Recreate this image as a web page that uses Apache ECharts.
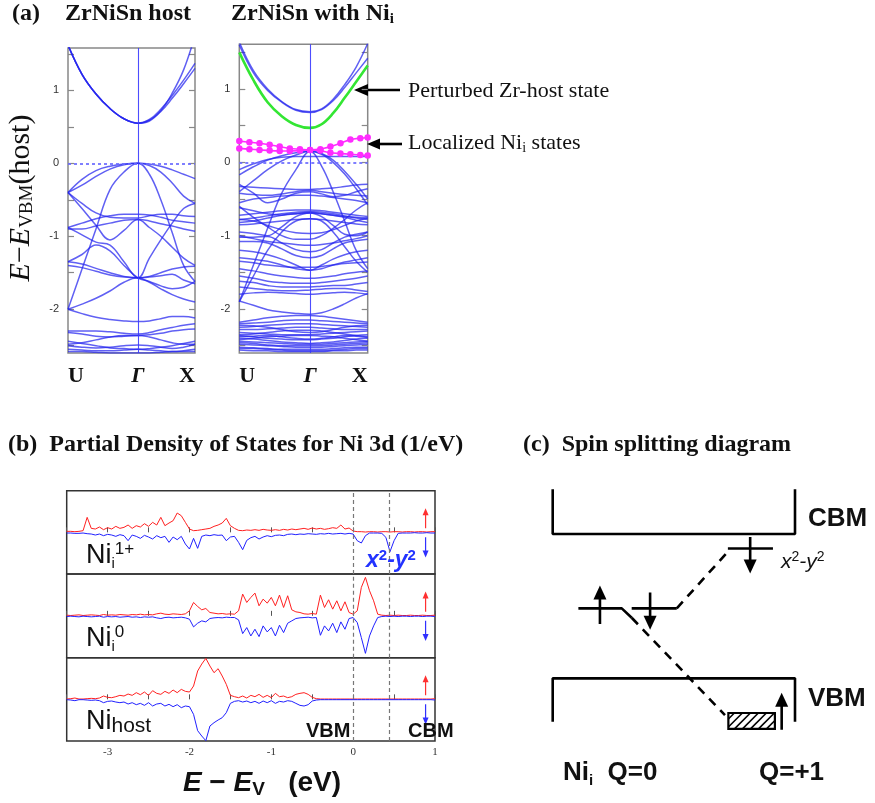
<!DOCTYPE html>
<html><head><meta charset="utf-8">
<script src="https://cdn.jsdelivr.net/npm/echarts@6/dist/echarts.min.js"></script>
<style>html,body{margin:0;padding:0;background:#fff}#c{width:875px;height:803px}</style>
</head><body><div id="c"></div><script>
// ---------------- DATA ----------------
// k-path positions (U -> Gamma -> X)
const kPoints = [0, 0.2, 0.4, 0.6, 0.8, 1.0, 1.163, 1.326, 1.489, 1.652, 1.815];
const kTickValues = [0, 1, 1.815];
const kTickLabels = ['U', 'Γ', 'X'];
const energyTickLabels = [-2, -1, 0, 1];
const energyTicks = [-2.5, -2, -1.5, -1, -0.5, 0, 0.5, 1, 1.5];

// ZrNiSn host bands (eV), values at kPoints
const hostBands = [
  [1.62,1.22,0.95,0.75,0.61,0.55,0.60,0.74,0.93,1.14,1.37],
  [1.62,1.22,0.95,0.75,0.61,0.55,0.59,0.71,0.89,1.09,1.30],
  [1.62,1.22,0.95,0.75,0.61,0.55,0.58,0.72,0.96,1.28,1.75],
  [-0.40,-0.22,-0.10,-0.04,-0.01,0,-0.01,-0.04,-0.09,-0.15,-0.21],
  [-0.40,-0.30,-0.18,-0.08,-0.02,0,-0.03,-0.12,-0.27,-0.45,-0.55],
  [-2.00,-1.45,-0.90,-0.36,-0.12,0,-0.15,-0.50,-0.95,-1.40,-1.62],
  [-0.40,-0.55,-0.68,-0.74,-0.75,-0.75,-0.72,-0.70,-0.70,-0.72,-0.73],
  [-0.88,-0.82,-0.76,-0.72,-0.70,-0.70,-0.71,-0.74,-0.78,-0.80,-0.82],
  [-0.90,-0.90,-0.86,-0.82,-0.78,-0.77,-0.79,-0.83,-0.86,-0.90,-0.93],
  [-0.40,-0.62,-0.85,-1.05,-0.92,-0.77,-0.88,-1.00,-1.15,-1.30,-1.40],
  [-0.88,-0.98,-1.08,-1.12,-1.35,-1.57,-1.30,-1.05,-0.82,-0.62,-0.55],
  [-1.35,-1.38,-1.44,-1.50,-1.55,-1.57,-1.55,-1.50,-1.45,-1.42,-1.41],
  [-1.40,-1.43,-1.48,-1.53,-1.56,-1.57,-1.56,-1.54,-1.52,-1.60,-1.65],
  [-1.35,-1.25,-1.12,-1.20,-1.40,-1.57,-1.62,-1.68,-1.72,-1.70,-1.62],
  [-2.00,-1.93,-1.85,-1.75,-1.63,-1.57,-1.63,-1.72,-1.80,-1.86,-1.90],
  [-2.00,-2.06,-2.11,-2.14,-2.16,-2.17,-2.16,-2.13,-2.10,-2.10,-2.12],
  [-2.30,-2.30,-2.30,-2.31,-2.33,-2.34,-2.32,-2.28,-2.25,-2.22,-2.20],
  [-2.32,-2.34,-2.37,-2.38,-2.37,-2.36,-2.35,-2.33,-2.30,-2.28,-2.27],
  [-2.48,-2.46,-2.42,-2.38,-2.36,-2.36,-2.38,-2.42,-2.46,-2.48,-2.48],
  [-2.50,-2.52,-2.53,-2.52,-2.50,-2.49,-2.50,-2.52,-2.54,-2.52,-2.48],
  [-2.55,-2.56,-2.57,-2.57,-2.56,-2.55,-2.56,-2.57,-2.58,-2.57,-2.55],
  [-2.44,-2.47,-2.50,-2.53,-2.54,-2.55,-2.54,-2.52,-2.50,-2.47,-2.44],
  [-2.58,-2.58,-2.59,-2.60,-2.60,-2.60,-2.60,-2.59,-2.58,-2.58,-2.58]
];

// ZrNiSn with Ni_i bands (eV)
const niBands = [
  [1.60,1.22,0.98,0.82,0.71,0.68,0.72,0.84,1.02,1.22,1.42],
  [1.64,1.25,1.00,0.83,0.72,0.69,0.73,0.86,1.06,1.30,1.62],
  [-0.17,-0.06,0.03,0.09,0.13,0.15,0.12,0.03,-0.12,-0.30,-0.50],
  [-0.40,-0.25,-0.10,0.02,0.10,0.15,0.11,0.00,-0.16,-0.36,-0.58],
  [-0.10,-0.02,0.04,0.07,0.08,0.08,0.08,0.08,0.08,0.08,0.08],
  [-1.90,-1.40,-0.90,-0.42,-0.10,0.15,-0.05,-0.40,-0.80,-1.20,-1.45],
  [-0.33,-0.34,-0.35,-0.36,-0.37,-0.37,-0.36,-0.35,-0.33,-0.31,-0.30],
  [-0.42,-0.44,-0.45,-0.43,-0.40,-0.38,-0.40,-0.42,-0.44,-0.45,-0.46],
  [-0.55,-0.50,-0.48,-0.46,-0.45,-0.45,-0.46,-0.48,-0.50,-0.52,-0.55],
  [-0.30,-0.42,-0.55,-0.50,-0.42,-0.40,-0.43,-0.47,-0.45,-0.40,-0.36],
  [-0.72,-0.70,-0.68,-0.66,-0.65,-0.65,-0.66,-0.68,-0.70,-0.72,-0.74],
  [-0.78,-0.76,-0.73,-0.70,-0.68,-0.67,-0.68,-0.70,-0.73,-0.76,-0.78],
  [-0.82,-0.80,-0.76,-0.72,-0.70,-0.69,-0.70,-0.72,-0.75,-0.79,-0.82],
  [-0.85,-0.84,-0.82,-0.80,-0.78,-0.77,-0.78,-0.80,-0.82,-0.84,-0.85],
  [-0.62,-0.66,-0.70,-0.72,-0.70,-0.68,-0.70,-0.72,-0.74,-0.75,-0.76],
  [-0.95,-0.97,-1.00,-0.88,-0.74,-0.69,-0.74,-0.86,-0.98,-1.00,-0.95],
  [-1.02,-1.02,-1.01,-1.10,-1.19,-1.22,-1.19,-1.10,-1.02,-0.98,-0.95],
  [-1.08,-1.08,-1.10,-1.18,-1.27,-1.30,-1.27,-1.18,-1.10,-1.07,-1.05],
  [-1.20,-1.22,-1.26,-1.32,-1.40,-1.47,-1.40,-1.32,-1.26,-1.22,-1.20],
  [-1.30,-1.32,-1.35,-1.40,-1.45,-1.47,-1.45,-1.40,-1.36,-1.33,-1.30],
  [-1.35,-1.37,-1.40,-1.42,-1.43,-1.43,-1.42,-1.40,-1.38,-1.37,-1.36],
  [-1.45,-1.48,-1.52,-1.55,-1.57,-1.58,-1.57,-1.55,-1.52,-1.50,-1.48],
  [-1.55,-1.58,-1.62,-1.64,-1.65,-1.65,-1.64,-1.62,-1.60,-1.58,-1.55],
  [-1.62,-1.64,-1.68,-1.70,-1.70,-1.70,-1.69,-1.68,-1.68,-1.66,-1.64],
  [-1.70,-1.72,-1.74,-1.75,-1.75,-1.74,-1.73,-1.72,-1.72,-1.74,-1.76],
  [-1.89,-1.95,-2.01,-2.04,-2.06,-2.07,-2.05,-2.00,-1.93,-1.85,-1.79],
  [-1.90,-1.55,-1.20,-0.95,-0.80,-0.77,-0.80,-0.95,-1.15,-1.35,-1.50],
  [-0.60,-0.75,-0.88,-1.00,-1.05,-1.05,-1.00,-0.90,-0.78,-0.65,-0.55],
  [-0.78,-0.80,-0.86,-0.92,-0.96,-0.97,-0.96,-0.92,-0.86,-0.80,-0.76],
  [-2.18,-2.15,-2.12,-2.10,-2.09,-2.09,-2.10,-2.12,-2.14,-2.16,-2.18],
  [-2.20,-2.19,-2.18,-2.16,-2.15,-2.15,-2.16,-2.17,-2.18,-2.19,-2.20],
  [-2.25,-2.24,-2.22,-2.21,-2.20,-2.20,-2.21,-2.22,-2.23,-2.24,-2.25],
  [-2.28,-2.28,-2.27,-2.26,-2.25,-2.25,-2.26,-2.27,-2.28,-2.28,-2.28],
  [-2.32,-2.33,-2.34,-2.35,-2.35,-2.35,-2.34,-2.33,-2.32,-2.31,-2.30],
  [-2.36,-2.38,-2.40,-2.41,-2.42,-2.42,-2.41,-2.40,-2.38,-2.36,-2.35],
  [-2.40,-2.41,-2.43,-2.45,-2.46,-2.47,-2.46,-2.45,-2.43,-2.41,-2.40],
  [-2.44,-2.45,-2.46,-2.47,-2.48,-2.48,-2.48,-2.47,-2.46,-2.45,-2.44],
  [-2.48,-2.49,-2.50,-2.51,-2.52,-2.52,-2.52,-2.51,-2.50,-2.49,-2.48],
  [-2.52,-2.53,-2.54,-2.55,-2.55,-2.55,-2.55,-2.54,-2.53,-2.52,-2.52],
  [-2.56,-2.57,-2.57,-2.58,-2.58,-2.58,-2.58,-2.57,-2.57,-2.56,-2.56],
  [-2.35,-2.34,-2.32,-2.30,-2.29,-2.29,-2.30,-2.32,-2.34,-2.36,-2.38],
  [-2.42,-2.40,-2.38,-2.37,-2.36,-2.36,-2.37,-2.38,-2.40,-2.42,-2.44],
  [-2.22,-2.23,-2.25,-2.28,-2.31,-2.32,-2.31,-2.28,-2.25,-2.23,-2.22],
  [-2.38,-2.37,-2.36,-2.38,-2.40,-2.41,-2.40,-2.38,-2.36,-2.37,-2.39],
  [-2.46,-2.47,-2.49,-2.50,-2.50,-2.50,-2.50,-2.49,-2.48,-2.47,-2.46],
  [-2.54,-2.54,-2.55,-2.56,-2.57,-2.57,-2.57,-2.56,-2.55,-2.54,-2.54],
  [-1.80,-1.78,-1.77,-1.78,-1.79,-1.80,-1.79,-1.78,-1.77,-1.78,-1.80],
  [-1.00,-1.04,-1.08,-1.10,-1.12,-1.13,-1.12,-1.10,-1.07,-1.04,-1.00]
];
// perturbed Zr-host state (green)
const zrHostState = [1.50,1.12,0.82,0.63,0.51,0.47,0.52,0.67,0.88,1.10,1.32];
// localized Ni_i states (magenta, dotted)
const kMagenta = [0,0.143,0.286,0.429,0.571,0.714,0.857,1.0,1.146,1.288,1.43,1.57,1.71,1.815];
const niLocalUpper = [0.29,0.275,0.26,0.24,0.215,0.19,0.18,0.17,0.18,0.215,0.26,0.31,0.33,0.34];
const niLocalLower = [0.19,0.18,0.17,0.16,0.155,0.155,0.16,0.17,0.16,0.13,0.12,0.11,0.10,0.095];

// PDOS energies (eV) and Ni 3d values (up positive, down negative)
const dosEnergy = [-3.5,-3.45,-3.4,-3.35,-3.3,-3.25,-3.2,-3.15,-3.1,-3.05,-3,-2.95,-2.9,-2.85,-2.8,-2.75,-2.7,-2.65,-2.6,-2.55,-2.5,-2.45,-2.4,-2.35,-2.3,-2.25,-2.2,-2.15,-2.1,-2.05,-2,-1.95,-1.9,-1.85,-1.8,-1.75,-1.7,-1.65,-1.6,-1.55,-1.5,-1.45,-1.4,-1.35,-1.3,-1.25,-1.2,-1.15,-1.1,-1.05,-1,-0.95,-0.9,-0.85,-0.8,-0.75,-0.7,-0.65,-0.6,-0.55,-0.5,-0.45,-0.4,-0.35,-0.3,-0.25,-0.2,-0.15,-0.1,-0.05,0,0.05,0.1,0.15,0.2,0.25,0.3,0.35,0.4,0.45,0.5,0.55,0.6,0.65,0.7,0.75,0.8,0.85,0.9,0.95,1];
const ni1pUp = [0.03,0.03,0.02,0.03,0.05,0.45,0.12,0.10,0.16,0.08,
 0.14,0.10,0.18,0.12,0.15,0.22,0.12,0.20,0.16,0.26,
 0.18,0.30,0.22,0.45,0.20,0.28,0.35,0.58,0.50,0.30,
 0.10,0.05,0.06,0.08,0.10,0.12,0.18,0.22,0.28,0.42,
 0.20,0.12,0.06,0.05,0.07,0.06,0.08,0.06,0.09,0.07,
 0.06,0.08,0.06,0.09,0.07,0.10,0.08,0.10,0.12,0.09,
 0.13,0.10,0.12,0.09,0.11,0.14,0.12,0.22,0.10,0.13,
 0.04,0.02,0.02,0.01,0.02,0.02,0.01,0.02,0.02,0.01,
 0.02,0.02,0.01,0.02,0.02,0.01,0.02,0.02,0.01,0.02,0.02];
const ni1pDown = [-0.02,-0.02,-0.03,-0.03,-0.02,-0.04,-0.05,-0.08,-0.05,-0.10,
 -0.06,-0.08,-0.12,-0.07,-0.10,-0.25,-0.08,-0.12,-0.18,-0.09,
 -0.14,-0.20,-0.10,-0.16,-0.12,-0.30,-0.14,-0.22,-0.12,-0.35,
 -0.50,-0.18,-0.48,-0.12,-0.08,-0.10,-0.07,-0.09,-0.08,-0.25,
 -0.14,-0.12,-0.30,-0.52,-0.24,-0.16,-0.12,-0.20,-0.14,-0.10,
 -0.13,-0.09,-0.08,-0.10,-0.06,-0.05,-0.07,-0.05,-0.06,-0.04,
 -0.05,-0.06,-0.04,-0.05,-0.03,-0.05,-0.04,-0.03,-0.05,-0.03,
 -0.05,-0.25,-0.32,-0.10,-0.02,-0.02,-0.02,-0.03,-0.15,-0.58,
 -0.25,-0.03,-0.02,-0.02,-0.02,-0.01,-0.02,-0.02,-0.01,-0.02,-0.02];
const ni0Up = [0.02,0.01,0.02,0.03,0.01,0.02,0.03,0.02,0.01,0.04,
 0.02,0.03,0.02,0.04,0.03,0.02,0.04,0.03,0.05,0.03,
 0.04,0.03,0.06,0.08,0.05,0.04,0.06,0.05,0.04,0.06,
 0.15,0.40,0.28,0.18,0.22,0.10,0.08,0.06,0.07,0.05,
 0.06,0.05,0.15,0.65,0.40,0.55,0.68,0.30,0.50,0.38,
 0.55,0.30,0.62,0.25,0.60,0.18,0.12,0.10,0.06,0.05,
 0.07,0.05,0.62,0.25,0.48,0.20,0.45,0.15,0.42,0.10,
 0.05,0.15,0.85,1.15,0.75,0.45,0.05,0.02,0.01,0.02,
 0.01,0.02,0.01,0.01,0.02,0.01,0.01,0.02,0.01,0.01,0.02];
const ni0Down = [-0.02,-0.01,-0.02,-0.03,-0.01,-0.02,-0.03,-0.02,-0.01,-0.04,
 -0.02,-0.03,-0.02,-0.04,-0.03,-0.02,-0.04,-0.03,-0.05,-0.03,
 -0.04,-0.03,-0.06,-0.08,-0.05,-0.04,-0.06,-0.05,-0.04,-0.06,
 -0.10,-0.33,-0.22,-0.15,-0.18,-0.08,-0.06,-0.05,-0.06,-0.04,
 -0.05,-0.05,-0.12,-0.53,-0.35,-0.60,-0.40,-0.62,-0.30,-0.48,
 -0.35,-0.60,-0.28,-0.50,-0.22,-0.15,-0.08,-0.06,-0.05,-0.04,
 -0.06,-0.05,-0.58,-0.30,-0.45,-0.22,-0.50,-0.18,-0.40,-0.08,
 -0.05,-0.20,-0.65,-1.12,-0.60,-0.30,-0.05,-0.02,-0.01,-0.02,
 -0.01,-0.02,-0.01,-0.01,-0.02,-0.01,-0.01,-0.02,-0.01,-0.01,-0.02];
const niHostUp = [0.01,0.02,0.04,0.01,0.01,0.02,0.03,0.02,0.04,0.10,
 0.06,0.05,0.08,0.12,0.10,0.16,0.12,0.20,0.14,0.22,
 0.12,0.26,0.18,0.15,0.24,0.18,0.28,0.20,0.30,0.24,
 0.22,0.40,0.85,1.06,1.23,1.00,0.80,0.92,0.70,0.45,
 0.12,0.08,0.05,0.10,0.04,0.12,0.08,0.15,0.06,0.12,
 0.05,0.18,0.08,0.10,0.05,0.08,0.15,0.18,0.20,0.15,
 0.06,0.02,0.01,0.01,0.01,0.01,0.01,0.01,0.01,0.01,
 0.01,0.01,0.01,0.01,0.01,0.01,0.01,0.01,0.01,0.01,
 0.01,0.01,0.01,0.01,0.01,0.01,0.01,0.01,0.01,0.01,0.02];
const niHostDown = [-0.01,-0.02,-0.04,-0.01,-0.01,-0.02,-0.03,-0.02,-0.04,-0.10,
 -0.06,-0.05,-0.08,-0.10,-0.08,-0.14,-0.10,-0.16,-0.12,-0.18,
 -0.10,-0.20,-0.14,-0.12,-0.20,-0.15,-0.22,-0.16,-0.25,-0.20,
 -0.22,-0.45,-0.94,-1.10,-1.24,-0.80,-0.70,-0.62,-0.55,-0.40,
 -0.12,-0.06,-0.04,-0.08,-0.05,-0.10,-0.06,-0.12,-0.05,-0.10,
 -0.04,-0.12,-0.06,-0.08,-0.04,-0.06,-0.12,-0.18,-0.20,-0.16,
 -0.05,-0.02,-0.01,-0.01,-0.01,-0.01,-0.01,-0.01,-0.01,-0.01,
 -0.01,-0.01,-0.01,-0.01,-0.01,-0.01,-0.01,-0.01,-0.01,-0.01,
 -0.01,-0.01,-0.01,-0.01,-0.01,-0.01,-0.01,-0.01,-0.01,-0.01,-0.02];
const dosTickLabels = [-3, -2, -1, 0, 1];
const edgeMarkers = [0, 0.44];          // VBM, CBM (eV)
const spinArrowE = 0.885;               // energy where the spin arrows sit
const spinUpArrow = [0.12, 0.62];
const spinDownArrow = [-0.15, -0.65];

// Spin-splitting diagram (schematic energy levels: VBM = 0, CBM = 1)
const cbmBox = [[0, 1.31], [0, 1.0], [10, 1.0], [10, 1.31]];
const vbmBox = [[0, -0.30], [0, 0], [10, 0], [10, -0.30]];
const q0UpLevel = [[1.06, 0.485], [2.85, 0.485], [3.26, 0.42]];
const q0DownLevel = [[3.26, 0.485], [5.12, 0.485]];
const x2y2Level = [[7.23, 0.90], [9.09, 0.90]];
const dashToX2y2 = [[5.12, 0.485], [7.19, 0.87]];
const dashToVbm = [[3.26, 0.42], [7.11, -0.255]];
const occupiedBand = [[7.25, -0.24, 9.17, -0.35]];
const levelArrows = [ // x, from, to
  [1.95, 0.376, 0.64],
  [4.02, 0.595, 0.34],
  [8.15, 0.98, 0.73],
  [9.45, -0.357, -0.103]
];

// ---------------- CHART ----------------
const SERIF = "'Liberation Serif','Times New Roman',serif";
const SANS = "'Liberation Sans',Arial,sans-serif";
const chart = echarts.init(document.getElementById('c'), null, {renderer: 'canvas'});

const bandGrids = [
  {left: 68, top: 48, width: 127, height: 305, ymin: -2.60, ymax: 1.58},
  {left: 239.3, top: 44.3, width: 128.4, height: 308.7, ymin: -2.60, ymax: 1.61}
];
const dosGrids = [
  {left: 66.7, top: 490.7, width: 368.3, height: 83.3},
  {left: 66.7, top: 574, width: 368.3, height: 83.7},
  {left: 66.7, top: 657.7, width: 368.3, height: 83.3}
];
const diagGrid = {left: 552.7, top: 476.3, width: 242.3, height: 274.2};

const grids = [], xAxes = [], yAxes = [], series = [];
bandGrids.forEach((g, i) => {
  grids.push({left: g.left, top: g.top, width: g.width, height: g.height, show: true,
    borderColor: '#888', borderWidth: 1.5, backgroundColor: 'transparent', containLabel: false, outerBoundsMode: 'none'});
  xAxes.push({type: 'value', gridIndex: i, min: 0, max: 1.815, splitLine: {show: false},
    axisLine: {show: false}, axisTick: {show: false},
    axisLabel: {customValues: kTickValues, margin: 12, alignMinLabel: 'left', alignMaxLabel: 'right',
      formatter: v => { const j = kTickValues.indexOf(v); return j === 1 ? '{g|Γ}' : '{b|' + kTickLabels[j] + '}'; },
      rich: {g: {fontFamily: SERIF, fontSize: 22, fontWeight: 'bold', fontStyle: 'italic', color: '#111'},
             b: {fontFamily: SERIF, fontSize: 22, fontWeight: 'bold', color: '#111'}}}});
  yAxes.push({type: 'value', gridIndex: i, min: g.ymin, max: g.ymax, position: 'left', splitLine: {show: false},
    axisLine: {show: false},
    axisTick: {show: true, inside: true, length: 6, customValues: energyTicks, lineStyle: {color: '#888', width: 1.2}},
    axisLabel: {customValues: energyTickLabels, margin: 9, fontFamily: SANS, fontSize: 11, color: '#333',
      formatter: v => String(v)}});
});
dosGrids.forEach((g, i) => {
  const gi = i + 2;
  grids.push({left: g.left, top: g.top, width: g.width, height: g.height, show: true,
    borderColor: '#333', borderWidth: 1.5, backgroundColor: 'transparent', containLabel: false, outerBoundsMode: 'none'});
  xAxes.push({type: 'value', gridIndex: gi, min: -3.5, max: 1, interval: 0.5, splitLine: {show: false},
    axisLine: {show: false},
    axisTick: {show: true, inside: true, length: 5, lineStyle: {color: '#555', width: 1}},
    axisLabel: {show: i === 2, customValues: dosTickLabels, margin: 6, fontFamily: SERIF, fontSize: 11, color: '#333',
      formatter: v => String(v)}});
  yAxes.push({type: 'value', gridIndex: gi, min: -1.25, max: 1.25, show: false, splitLine: {show: false}});
});
grids.push({left: diagGrid.left, top: diagGrid.top, width: diagGrid.width, height: diagGrid.height, show: false, containLabel: false, outerBoundsMode: 'none'});
xAxes.push({type: 'value', gridIndex: 5, min: 0, max: 10, show: false, splitLine: {show: false}});
yAxes.push({type: 'value', gridIndex: 5, min: -0.5, max: 1.4, show: false, splitLine: {show: false}});
// right-side tick axes for band panels
bandGrids.forEach((g, i) => {
  yAxes.push({type: 'value', gridIndex: i, min: g.ymin, max: g.ymax, position: 'right', splitLine: {show: false},
    axisLine: {show: false}, axisLabel: {show: false},
    axisTick: {show: true, inside: true, length: 6, customValues: energyTicks, lineStyle: {color: '#888', width: 1.2}}});
});

// band structure series
function addBands(list, gi) {
  list.forEach((vals, j) => {
    const s = {type: 'line', xAxisIndex: gi, yAxisIndex: gi, data: kPoints.map((k, n) => [k, vals[n]]),
      smooth: 0.4, symbol: 'none', silent: true, animation: false, clip: true,
      lineStyle: {color: '#2222ee', width: 1.5, opacity: 0.72}, z: 2};
    if (j === 0) {
      s.markLine = {silent: true, symbol: 'none', animation: false, label: {show: false},
        data: [
          {xAxis: kTickValues[1], lineStyle: {color: '#3a3aff', width: 1.1, type: 'solid', opacity: 0.9}},
          {yAxis: 0, lineStyle: {color: '#6a6aff', width: 1.7, type: [3, 3]}}
        ]};
    }
    series.push(s);
  });
}
addBands(hostBands, 0);
addBands(niBands, 1);
series.push({type: 'line', xAxisIndex: 1, yAxisIndex: 1, data: kPoints.map((k, n) => [k, zrHostState[n]]),
  smooth: 0.4, symbol: 'none', silent: true, animation: false, clip: true,
  lineStyle: {color: '#33e633', width: 2.6}, z: 4});
[niLocalUpper, niLocalLower].forEach(vals => {
  series.push({type: 'line', xAxisIndex: 1, yAxisIndex: 1, data: kMagenta.map((k, n) => [k, vals[n]]),
    smooth: 0.3, symbol: 'circle', symbolSize: 6.5, showSymbol: true, silent: true, animation: false,
    itemStyle: {color: '#ff2cff', borderWidth: 0}, lineStyle: {color: '#ff2cff', width: 1.6}, z: 5});
});

// PDOS series
const dosSets = [[ni1pUp, ni1pDown], [ni0Up, ni0Down], [niHostUp, niHostDown]];
dosSets.forEach((pair, i) => {
  const gi = i + 2;
  series.push({type: 'line', xAxisIndex: gi, yAxisIndex: gi, data: dosEnergy.map((e, n) => [e, pair[0][n]]),
    symbol: 'none', silent: true, animation: false, lineStyle: {color: '#ff2020', width: 1}, z: 3,
    markLine: {silent: true, symbol: 'none', animation: false, label: {show: false},
      lineStyle: {color: '#777', width: 1.2, type: [4, 3]},
      data: edgeMarkers.map(e => ({xAxis: e}))}});
  series.push({type: 'line', xAxisIndex: gi, yAxisIndex: gi, data: dosEnergy.map((e, n) => [e, pair[1][n]]),
    symbol: 'none', silent: true, animation: false, lineStyle: {color: '#2020ff', width: 1}, z: 3});
  // spin arrows
  [[spinUpArrow, '#ff3030'], [spinDownArrow, '#3030ff']].forEach(([a, col]) => {
    series.push({type: 'line', xAxisIndex: gi, yAxisIndex: gi, silent: true, animation: false,
      data: [[spinArrowE, a[0]], [spinArrowE, a[1]]], symbol: 'none', lineStyle: {color: col, width: 1.2},
      markPoint: {silent: true, animation: false, label: {show: false},
        data: [{coord: [spinArrowE, a[1]], symbol: 'triangle', symbolSize: [6, 7],
          symbolRotate: a[1] > 0 ? 0 : 180, itemStyle: {color: col}}]}});
  });
});

// diagram series
const diagLine = (pts, dashed) => ({type: 'line', xAxisIndex: 5, yAxisIndex: 5, data: pts, symbol: 'none',
  silent: true, animation: false, clip: false,
  lineStyle: {color: '#000', width: 2.6, type: dashed ? [9, 7] : 'solid', cap: 'butt'}, z: 3});
[cbmBox, vbmBox, q0UpLevel, q0DownLevel, x2y2Level].forEach(p => series.push(diagLine(p, false)));
[dashToX2y2, dashToVbm].forEach(p => series.push(diagLine(p, true)));
levelArrows.forEach(([x, from, to]) => {
  const up = to > from;
  const head = 0.045 * (up ? 1 : -1);
  series.push({type: 'line', xAxisIndex: 5, yAxisIndex: 5, silent: true, animation: false, clip: false,
    data: [[x, from], [x, to - head]], symbol: 'none', lineStyle: {color: '#000', width: 2.6}, z: 4,
    markPoint: {silent: true, animation: false, label: {show: false},
      data: [{coord: [x, to - head], symbol: 'triangle', symbolSize: [13, 14], symbolRotate: up ? 0 : 180,
        itemStyle: {color: '#000'}}]}});
});
series.push({type: 'custom', xAxisIndex: 5, yAxisIndex: 5, silent: true, animation: false, data: occupiedBand, z: 5,
  renderItem: (params, api) => {
    const a = api.coord([api.value(0), api.value(1)]);
    const b = api.coord([api.value(2), api.value(3)]);
    const x0 = Math.min(a[0], b[0]), y0 = Math.min(a[1], b[1]);
    const w = Math.abs(b[0] - a[0]), h = Math.abs(b[1] - a[1]);
    const children = [{type: 'rect', shape: {x: x0, y: y0, width: w, height: h},
      style: {fill: '#fff', stroke: '#000', lineWidth: 2.2}}];
    for (let d = 6; d < w + h; d += 8) {
      let xs = x0 + d - h, ys = y0 + h, xe = x0 + d, ye = y0;
      if (xs < x0) { ys -= (x0 - xs); xs = x0; }
      if (xe > x0 + w) { ye += (xe - (x0 + w)); xe = x0 + w; }
      if (xe > xs) children.push({type: 'line', shape: {x1: xs, y1: ys, x2: xe, y2: ye}, style: {stroke: '#000', lineWidth: 1.6}});
    }
    return {type: 'group', children};
  }});

// ---------------- TEXT / ANNOTATIONS ----------------
function txt(x, y, text, font, extra) {
  const st = Object.assign({text, font, fill: '#111', align: 'left', verticalAlign: 'middle',
    textAlign: 'left', textVerticalAlign: 'middle'}, extra || {});
  return {type: 'text', x, y, silent: true, style: st, z: 10};
}
const serifSub = {s: {fontFamily: SERIF, fontSize: 15, fontWeight: 'bold', verticalAlign: 'bottom', lineHeight: 10, fill: '#111'},
                  m: {fontFamily: SERIF, fontSize: 24, fontWeight: 'bold', lineHeight: 26, fill: '#111'}};
const sansRich = {
  m: {fontFamily: SANS, fontSize: 27, lineHeight: 30, fill: '#111'},
  s: {fontFamily: SANS, fontSize: 15, lineHeight: 10, verticalAlign: 'bottom', fill: '#111'},
  p: {fontFamily: SANS, fontSize: 17, lineHeight: 12, verticalAlign: 'top', fill: '#111'},
  h: {fontFamily: SANS, fontSize: 21, lineHeight: 16, verticalAlign: 'bottom', fill: '#111'}};
const graphic = [
  txt(12, 14, '(a)', `bold 24px ${SERIF}`),
  txt(65, 14, 'ZrNiSn host', `bold 24px ${SERIF}`),
  txt(231, 14, '{m|ZrNiSn with Ni}{s|i}', `bold 24px ${SERIF}`, {rich: serifSub}),
  txt(408, 91, 'Perturbed Zr-host state', `22px ${SERIF}`),
  txt(408, 143, '{m|Localized Ni}{s|i}{m| states}', `22px ${SERIF}`, {rich: {
    m: {fontFamily: SERIF, fontSize: 22, lineHeight: 24, fill: '#111'},
    s: {fontFamily: SERIF, fontSize: 14, lineHeight: 8, verticalAlign: 'bottom', fill: '#111'}}}),
  {type: 'line', silent: true, shape: {x1: 400, y1: 90, x2: 366, y2: 90}, style: {stroke: '#000', lineWidth: 2.6}},
  {type: 'polygon', silent: true, shape: {points: [[354, 90], [368, 84], [368, 96]]}, style: {fill: '#000'}},
  {type: 'line', silent: true, shape: {x1: 402, y1: 144, x2: 378, y2: 144}, style: {stroke: '#000', lineWidth: 2.6}},
  {type: 'polygon', silent: true, shape: {points: [[367, 144], [380, 138.5], [380, 149.5]]}, style: {fill: '#000'}},
  {type: 'text', x: 21, y: 198, rotation: Math.PI / 2, silent: true, style: {
    text: '{e|E}{n|−}{e|E}{s|VBM}{n|(host)}', align: 'center', verticalAlign: 'middle',
    textAlign: 'center', textVerticalAlign: 'middle',
    rich: {e: {fontFamily: SERIF, fontSize: 30, fontStyle: 'italic', lineHeight: 32, fill: '#111'},
           n: {fontFamily: SERIF, fontSize: 30, lineHeight: 32, fill: '#111'},
           s: {fontFamily: SERIF, fontSize: 19, lineHeight: 14, verticalAlign: 'bottom', fill: '#111'}}}},
  txt(8, 445, '(b)  Partial Density of States for Ni 3d (1/eV)', `bold 24px ${SERIF}`),
  txt(523, 445, '(c)  Spin splitting diagram', `bold 24px ${SERIF}`),
  // PDOS panel labels
  txt(86, 556, '{m|Ni}{s|i}{p|1+}', `26px ${SANS}`, {rich: sansRich}),
  txt(86, 639, '{m|Ni}{s|i}{p|0}', `26px ${SANS}`, {rich: sansRich}),
  txt(86, 722, '{m|Ni}{h|host}', `26px ${SANS}`, {rich: sansRich}),
  txt(366, 561, '{b|x}{p|2}{b|-y}{p|2}', `italic bold 22px ${SANS}`, {rich: {
    b: {fontFamily: SANS, fontSize: 23, fontWeight: 'bold', fontStyle: 'italic', lineHeight: 26, fill: '#2233ff'},
    p: {fontFamily: SANS, fontSize: 15, fontWeight: 'bold', lineHeight: 14, verticalAlign: 'top', fill: '#2233ff'}}}),
  txt(306, 731, 'VBM', `bold 20px ${SANS}`),
  txt(408, 731, 'CBM', `bold 20px ${SANS}`),
  {type: 'text', x: 262, y: 783, silent: true, style: {
    text: '{e|E}{n| − }{e|E}{s|V}{n|   (eV)}', align: 'center', verticalAlign: 'middle',
    textAlign: 'center', textVerticalAlign: 'middle',
    rich: {e: {fontFamily: SANS, fontSize: 28, fontWeight: 'bold', fontStyle: 'italic', lineHeight: 32, fill: '#111'},
           n: {fontFamily: SANS, fontSize: 28, fontWeight: 'bold', lineHeight: 32, fill: '#111'},
           s: {fontFamily: SANS, fontSize: 19, fontWeight: 'bold', lineHeight: 16, verticalAlign: 'bottom', fill: '#111'}}}},
  // diagram labels
  txt(808, 519, 'CBM', `bold 26px ${SANS}`),
  txt(808, 699, 'VBM', `bold 26px ${SANS}`),
  txt(781, 562, '{m|x}{p|2}{m|-y}{p|2}', `italic 20px ${SANS}`, {rich: {
    m: {fontFamily: SANS, fontSize: 21, fontStyle: 'italic', lineHeight: 24, fill: '#111'},
    p: {fontFamily: SANS, fontSize: 14, lineHeight: 12, verticalAlign: 'top', fill: '#111'}}}),
  txt(563, 773, '{m|Ni}{s|i}{m|  Q=0}', `bold 26px ${SANS}`, {rich: {
    m: {fontFamily: SANS, fontSize: 26, fontWeight: 'bold', lineHeight: 30, fill: '#111'},
    s: {fontFamily: SANS, fontSize: 15, fontWeight: 'bold', lineHeight: 10, verticalAlign: 'bottom', fill: '#111'}}}),
  txt(759, 773, 'Q=+1', `bold 26px ${SANS}`)
];

chart.setOption({
  backgroundColor: '#fff',
  animation: false,
  grid: grids, xAxis: xAxes, yAxis: yAxes, series, graphic
});
</script></body></html>
